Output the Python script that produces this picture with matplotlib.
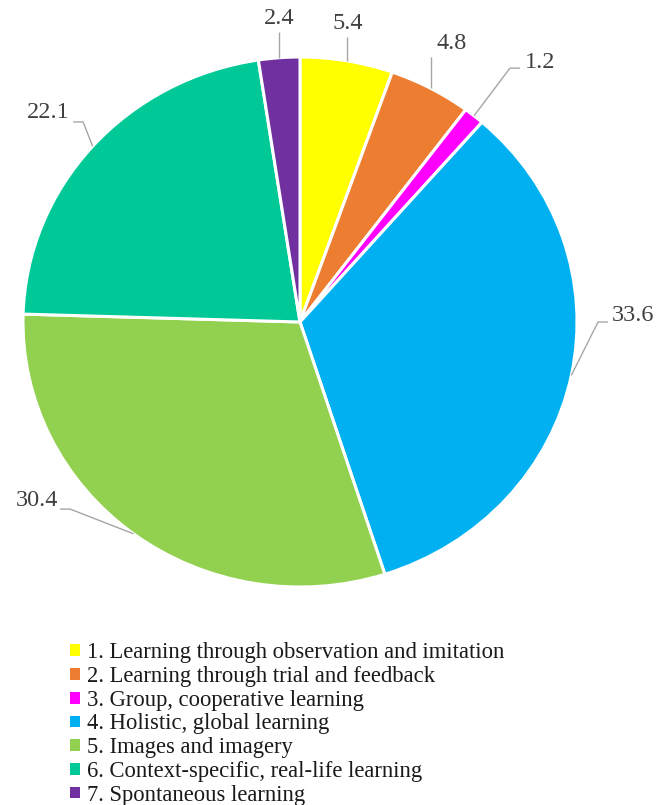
import matplotlib
matplotlib.use('Agg')
import matplotlib.pyplot as plt
from matplotlib.patches import Patch
import numpy as np

plt.rcParams['font.family'] = ['Liberation Serif', 'DejaVu Serif']

# データ
categories = [
    "1. Learning through observation and imitation",
    "2. Learning through trial and feedback",
    "3. Group, cooperative learning",
    "4. Holistic, global learning",
    "5. Images and imagery",
    "6. Context-specific, real-life learning",
    "7. Spontaneous learning",
]
values = [5.4, 4.8, 1.2, 33.6, 30.4, 22.1, 2.4]
colors = ['#FFFF00', '#ED7D31', '#FF00FF', '#00B0F0', '#92D050', '#00C997', '#7030A0']

# ラベル位置 (テキスト位置, 折れ点, 揃え)
label_text_pos = [(0.173, 1.125), (0.549, 1.05), (0.812, 0.978), (1.125, 0.025),
                  (-0.874, -0.675), (-0.830, 0.789), (-0.076, 1.145)]
label_elbow = [None, None, (0.758, 0.958), (1.076, 0.0),
               (-0.830, -0.706), (-0.783, 0.755), None]
label_ha = ['center', 'center', 'left', 'left', 'right', 'right', 'center']

W, H = 657, 805
fig = plt.figure(figsize=(W / 100, H / 100), dpi=100)
# 円は少し横長
ax = fig.add_axes([23 / W, 1 - 587 / H, 554 / W, 530 / H])

wedges, _ = ax.pie(values, colors=colors, startangle=90, counterclock=False,
                   wedgeprops=dict(edgecolor='white', linewidth=2.2))
ax.set_aspect('auto')
ax.set_xlim(-1, 1)
ax.set_ylim(-1, 1)
ax.axis('off')

line_color = '#A6A6A6'
for w, v, tp, elb, ha in zip(wedges, values, label_text_pos, label_elbow, label_ha):
    ang = np.deg2rad((w.theta1 + w.theta2) / 2)
    x0, y0 = np.cos(ang), np.sin(ang)
    if elb is None:
        xs = [x0, x0]
        ys = [y0, tp[1] - 0.05]
    else:
        dx = 0.036 if ha == 'left' else -0.036
        xs = [x0, elb[0], elb[0] + dx]
        ys = [y0, elb[1], elb[1]]
    ax.plot(xs, ys, color=line_color, linewidth=1.0, clip_on=False,
            solid_capstyle='butt')
    ax.text(tp[0], tp[1], f"{v}", ha=ha, va='center', fontsize=17.5,
            color='#404040', clip_on=False)

handles = [Patch(facecolor=c, edgecolor='none') for c in colors]
fig.legend(handles, categories, loc='upper left',
           bbox_to_anchor=(59 / W, 1 - 631 / H), frameon=False,
           fontsize=16.3, handlelength=0.42, handleheight=0.42,
           handletextpad=0.3, labelspacing=0.12, borderpad=0,
           labelcolor='#1a1a1a')

fig.savefig('out.png', dpi=100, facecolor='white')
